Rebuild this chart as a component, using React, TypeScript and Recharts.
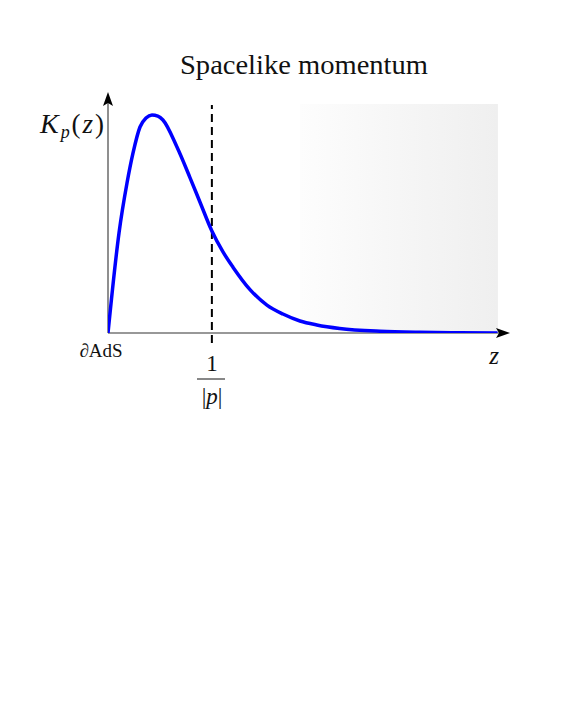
import { Customized, Line, LineChart, ReferenceArea, ReferenceLine, XAxis, YAxis } from "recharts";

// z positions (1 = 1/|p|) and the kernel value K_p(z), peak normalised to 1
const zValues = [0, 0.106, 0.183, 0.241, 0.308, 0.366, 0.423, 0.48, 0.529, 0.664, 0.789, 0.885, 1.0, 1.107, 1.203, 1.367, 1.53, 1.684, 1.848, 2.01, 2.23, 2.62, 3.0, 3.39, 3.75];
const kValues = [0, 0.459, 0.688, 0.826, 0.945, 0.986, 1.0, 0.995, 0.977, 0.853, 0.713, 0.601, 0.468, 0.372, 0.302, 0.199, 0.128, 0.087, 0.055, 0.037, 0.021, 0.008, 0.003, 0.001, 0];

const zInvP = 1;
const zMax = 3.87;
const kMax = 1.1055;
const shadeZ = [1.848, 3.754];
const shadeTop = 1.05;

const data = zValues.map((z, i) => ({ z, k: kValues[i] }));

const W = 574;
const H = 724;
const M = { top: 92, left: 108, right: 64, bottom: 391 };

const serif = "'Liberation Serif', 'DejaVu Serif', serif";
const ts = (size: number, italic = false) => ({ fontFamily: serif, fontSize: size, fontStyle: italic ? "italic" : "normal" });

function ArrowLine(props: any) {
  const { x1, y1, x2, y2 } = props;
  const dx = x2 - x1;
  const dy = y2 - y1;
  const len = Math.sqrt(dx * dx + dy * dy) || 1;
  const ux = dx / len;
  const uy = dy / len;
  const head = 14;
  const half = 5;
  const bx = x2 - ux * head;
  const by = y2 - uy * head;
  const pts = [
    `${x2},${y2}`,
    `${bx - uy * half},${by + ux * half}`,
    `${bx + ux * 3},${by + uy * 3}`,
    `${bx + uy * half},${by - ux * half}`,
  ].join(" ");
  return (
    <g>
      <line x1={x1} y1={y1} x2={bx + ux * 4} y2={by + uy * 4} stroke="#333" strokeWidth={1.1} />
      <polygon points={pts} fill="#000" />
    </g>
  );
}

function Labels() {
  const x0 = M.left;
  const y0 = H - M.bottom;
  return (
    <g fill="#111">
      <text x={304} y={74} style={ts(27)} textAnchor="middle" textLength={248} lengthAdjust="spacingAndGlyphs">Spacelike momentum</text>
      <text x={40} y={133} style={ts(27)} textLength={64} lengthAdjust="spacing">
        <tspan style={ts(28, true)}>K</tspan>
        <tspan style={ts(18, true)} dy={5}>p</tspan>
        <tspan dy={-5}>(</tspan>
        <tspan style={ts(27, true)}>z</tspan>
        <tspan>)</tspan>
      </text>
      <text x={x0 - 7} y={y0 + 24} style={ts(19)} textAnchor="middle">∂AdS</text>
      <text x={212} y={y0 + 38} style={ts(23)} textAnchor="middle">1</text>
      <line x1={197} x2={225} y1={y0 + 46} y2={y0 + 46} stroke="#111" strokeWidth={1} />
      <text x={212} y={y0 + 71} style={ts(23)} textAnchor="middle">
        |<tspan style={ts(23, true)}>p</tspan>|
      </text>
      <text x={494} y={y0 + 31} style={ts(25, true)} textAnchor="middle">z</text>
    </g>
  );
}

export default function App() {
  return (
    <div style={{ position: "absolute", left: 0, top: 0, width: W, height: H, background: "#fff" }}>
      <LineChart width={W} height={H} data={data} margin={M}>
        <defs>
          <linearGradient id="shade" x1="0" y1="0" x2="1" y2="0">
            <stop offset="0%" stopColor="#fdfdfd" />
            <stop offset="100%" stopColor="#efefef" />
          </linearGradient>
        </defs>
        <XAxis dataKey="z" type="number" domain={[0, zMax]} hide allowDataOverflow />
        <YAxis type="number" domain={[0, kMax]} hide allowDataOverflow />
        <ReferenceArea x1={shadeZ[0]} x2={shadeZ[1]} y1={0} y2={shadeTop} fill="url(#shade)" fillOpacity={1} stroke="none" ifOverflow="visible" />
        <ReferenceLine segment={[{ x: 0, y: 0 }, { x: zMax, y: 0 }]} shape={ArrowLine} ifOverflow="visible" />
        <ReferenceLine segment={[{ x: 0, y: 0 }, { x: 0, y: kMax }]} shape={ArrowLine} ifOverflow="visible" />
        <ReferenceLine
          segment={[{ x: zInvP, y: -0.046 }, { x: zInvP, y: 1.046 }]}
          stroke="#000"
          strokeWidth={2}
          strokeDasharray="8 5"
          ifOverflow="visible"
        />
        <Line
          type="monotone"
          dataKey="k"
          stroke="#0000ff"
          strokeWidth={3.5}
          dot={false}
          activeDot={false}
          isAnimationActive={false}
        />
        <Customized component={<Labels />} />
      </LineChart>
    </div>
  );
}
